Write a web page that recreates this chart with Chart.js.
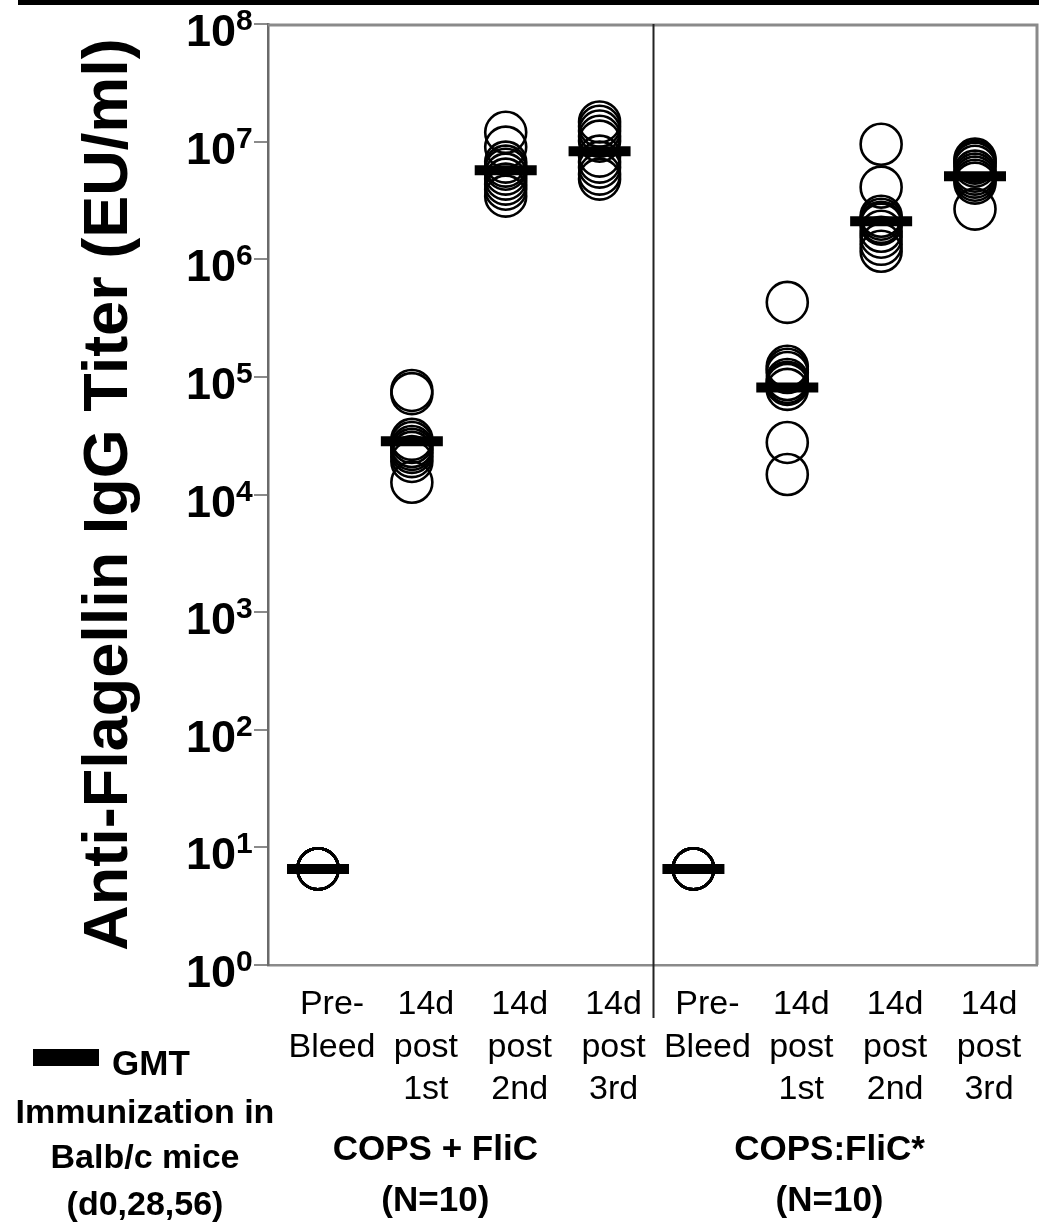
<!DOCTYPE html>
<html>
<head>
<meta charset="utf-8">
<script src="https://cdn.jsdelivr.net/npm/chart.js@4.4.1/dist/chart.umd.min.js"></script>
<style>
  html, body { margin: 0; padding: 0; background: #fff; }
</style>
</head>
<body>
<canvas id="titerChart" width="1039" height="1222"></canvas>
<script>
// Categorias (una por columna de puntos)
const timepoints = [['Pre-', 'Bleed'], ['14d', 'post', '1st'], ['14d', 'post', '2nd'], ['14d', 'post', '3rd']];
const groups = [['COPS + FliC', '(N=10)'], ['COPS:FliC*', '(N=10)']];
const yTickExponents = [0, 1, 2, 3, 4, 5, 6, 7, 8];

// Titulos individuales (EU/ml), 10 ratones por columna
const mixPre = [6.56, 6.56, 6.56, 6.56, 6.56, 6.56, 6.56, 6.56, 6.56, 6.56];
const mix1st = [76700, 72000, 29400, 27700, 25600, 24200, 22800, 21000, 19100, 12700];
const mix2nd = [12000000, 8980000, 6700000, 6190000, 5830000, 5290000, 4800000, 4350000, 3940000, 3440000];
const mix3rd = [14700000, 13500000, 12300000, 11100000, 10100000, 7530000, 6700000, 6070000, 5290000, 4800000];

const conjPre = [6.56, 6.56, 6.56, 6.56, 6.56, 6.56, 6.56, 6.56, 6.56, 6.56];
const conj1st = [430000, 123000, 116000, 109000, 95000, 89800, 86300, 78300, 27700, 14800];
const conj2nd = [9500000, 4100000, 2320000, 2190000, 2060000, 1990000, 1730000, 1540000, 1340000, 1170000];
const conj3rd = [7100000, 6820000, 6560000, 6180000, 5610000, 5290000, 4990000, 4700000, 4440000, 2670000];

// GMT por columna
const gmtMix = [6.56, 28400, 5720000, 8300000];
const gmtConj = [6.56, 81400, 2100000, 5080000];

const columns = [mixPre, mix1st, mix2nd, mix3rd, conjPre, conj1st, conj2nd, conj3rd];
const gmtAll = gmtMix.concat(gmtConj);
const tickLines = timepoints.concat(timepoints);

const FONT = '"Liberation Sans", Arial, sans-serif';
Chart.defaults.font.family = FONT;
Chart.defaults.color = '#000';

// Puntos: columna i en x = i + 1
const titerPoints = [];
columns.forEach((vals, i) => vals.forEach(v => titerPoints.push({ x: i + 1, y: v })));
const gmtPoints = gmtAll.map((v, i) => ({ x: i + 1, y: v }));

const decorPlugin = {
    id: 'decor',
    beforeDraw(chart) {
        const ctx = chart.ctx;
        ctx.save();
        ctx.fillStyle = '#fff';
        ctx.fillRect(0, 0, chart.width, chart.height);
        ctx.restore();
    },
    afterDraw(chart) {
        const { ctx, chartArea } = chart;
        const xs = chart.scales.x, ys = chart.scales.y;
        ctx.save();

        // Barra negra superior
        ctx.fillStyle = '#000';
        ctx.fillRect(18, 0, chart.width - 18, 5);

        // Marco superior y derecho
        ctx.strokeStyle = '#8a8a8a';
        ctx.lineWidth = 3;
        ctx.beginPath();
        ctx.moveTo(chartArea.left, chartArea.top + 1);
        ctx.lineTo(chartArea.right, chartArea.top + 1);
        ctx.lineTo(chartArea.right, chartArea.bottom);
        ctx.stroke();

        // Separador entre grupos
        const xd = Math.round(xs.getPixelForValue(4.57)) + 0.5;
        ctx.strokeStyle = '#222';
        ctx.lineWidth = 2;
        ctx.beginPath();
        ctx.moveTo(xd, chartArea.top);
        ctx.lineTo(xd, 1018);
        ctx.stroke();

        // Etiquetas del eje Y: 10^n
        ys.ticks.forEach(t => {
            const y = ys.getPixelForValue(t.value);
            const exp = Math.round(Math.log10(t.value));
            ctx.fillStyle = '#000';
            ctx.font = 'bold 45px ' + FONT;
            ctx.textAlign = 'right';
            ctx.textBaseline = 'alphabetic';
            ctx.fillText('10', 236, y + 22);
            ctx.font = 'bold 30px ' + FONT;
            ctx.textAlign = 'left';
            ctx.fillText(String(exp), 236, y + 6);
        });

        // Nombres de grupo
        const groupCenters = [2.25, 6.45];
        ctx.font = 'bold 35px ' + FONT;
        ctx.textAlign = 'center';
        groups.forEach((g, i) => {
            const gx = xs.getPixelForValue(groupCenters[i]);
            ctx.fillText(g[0], gx, 1160);
            ctx.fillText(g[1], gx, 1211);
        });

        // Leyenda GMT
        ctx.fillRect(33, 1049, 66, 17);
        ctx.textAlign = 'left';
        ctx.fillText('GMT', 112, 1075);
        ctx.font = 'bold 34px ' + FONT;
        ctx.textAlign = 'center';
        ctx.fillText('Immunization in', 145, 1123);
        ctx.fillText('Balb/c mice', 145, 1168);
        ctx.fillText('(d0,28,56)', 145, 1215);

        ctx.restore();
    }
};

const ctx = document.getElementById('titerChart').getContext('2d');
new Chart(ctx, {
    type: 'scatter',
    data: {
        datasets: [{
            label: 'GMT',
            data: gmtPoints,
            pointStyle: 'line',
            pointRadius: 31,
            pointBorderWidth: 10,
            borderColor: '#000',
            backgroundColor: '#000'
        }, {
            label: 'Titer',
            data: titerPoints,
            pointStyle: 'circle',
            pointRadius: 20.5,
            pointBorderWidth: 2.6,
            borderColor: '#000',
            backgroundColor: 'rgba(0,0,0,0)'
        }]
    },
    options: {
        responsive: false,
        animation: false,
        events: [],
        layout: { autoPadding: false, padding: { top: 24, right: 2, left: 0, bottom: 0 } },
        plugins: {
            legend: { display: false },
            tooltip: { enabled: false }
        },
        scales: {
            x: {
                type: 'linear',
                min: 0.4673,
                max: 8.6606,
                afterFit(scale) {
                    scale.height = 257;
                    scale.paddingLeft = 0;
                    scale.paddingRight = 0;
                },
                afterBuildTicks(scale) { scale.ticks = tickLines.map((_, i) => ({ value: i + 1 })); },
                grid: { display: false, drawTicks: false },
                border: { display: true, color: '#8a8a8a', width: 2.5 },
                ticks: {
                    autoSkip: false,
                    maxRotation: 0,
                    minRotation: 0,
                    padding: 18,
                    labelOffset: 14,
                    font: { size: 34, lineHeight: 1.26 },
                    color: '#000',
                    callback: (value) => tickLines[value - 1] || ''
                }
            },
            y: {
                type: 'logarithmic',
                min: 1,
                max: 1e8,
                afterFit(scale) {
                    scale.width = 268;
                    scale.paddingTop = 0;
                    scale.paddingBottom = 0;
                },
                afterBuildTicks(scale) { scale.ticks = yTickExponents.map(e => ({ value: Math.pow(10, e) })); },
                grid: { drawOnChartArea: false, drawTicks: true, tickLength: 14, color: '#8a8a8a', lineWidth: 2 },
                border: { display: true, color: '#6a6a6a', width: 2.5 },
                ticks: { autoSkip: false, callback: () => '' },
                title: {
                    display: true,
                    text: 'Anti-Flagellin IgG Titer (EU/ml)',
                    font: { size: 63, weight: 'bold', lineHeight: 1.2 },
                    color: '#000',
                    padding: { top: 72, bottom: 0 }
                }
            }
        }
    },
    plugins: [decorPlugin]
});
</script>
</body>
</html>
